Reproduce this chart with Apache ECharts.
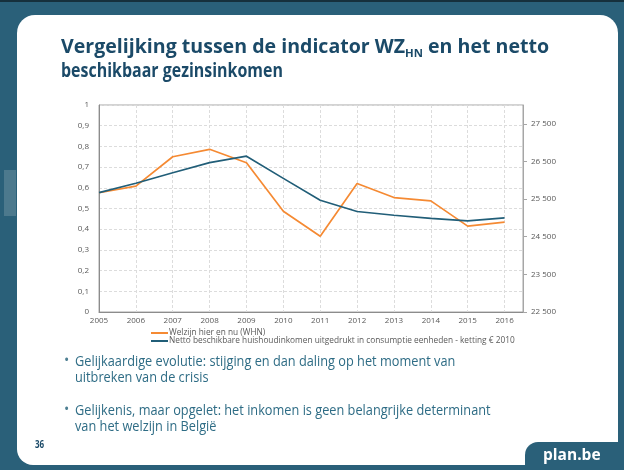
<!DOCTYPE html>
<html>
<head>
<meta charset="utf-8">
<script src="https://cdn.jsdelivr.net/npm/echarts@6/dist/echarts.min.js"></script>
<style>
  html, body { margin: 0; padding: 0; background: #2a6079; }
  #chart { width: 624px; height: 470px; }
</style>
</head>
<body>
<div id="chart"></div>
<script>
// Years on the horizontal axis
const years = [2005, 2006, 2007, 2008, 2009, 2010, 2011, 2012, 2013, 2014, 2015, 2016];

// Welzijn hier en nu (WHN), index 0-1 (left axis)
const welzijn = [0.576, 0.608, 0.750, 0.786, 0.721, 0.487, 0.366, 0.621, 0.553, 0.537, 0.415, 0.434];

// Netto beschikbaar huishoudinkomen per consumptie-eenheid, ketting € 2010 (right axis)
const inkomen = [25670, 25920, 26200, 26470, 26640, 26050, 25470, 25170, 25070, 24990, 24920, 25000];

const seriesNames = [
  'Welzijn hier en nu (WHN)',
  'Netto beschikbare huishoudinkomen uitgedrukt in consumptie eenheden - ketting € 2010'
];

// Left axis 0..1 step 0.1; right axis 22 500..28 000 step 1 000
const leftAxisRange = [0, 1, 0.1];
const rightAxisRange = [22500, 28000, 1000];

const titleLines = [
  'Vergelijking tussen de indicator WZ{sub|HN} en het netto',
  'beschikbaar gezinsinkomen'
];
const bullets = [
  'Gelijkaardige evolutie: stijging en dan daling op het moment van\nuitbreken van de crisis',
  'Gelijkenis, maar opgelet: het inkomen is geen belangrijke determinant\nvan het welzijn in België'
];
const pageNumber = '36';
const siteLabel = 'plan.be';

const TEAL = '#2a6079';
const ORANGE = '#f58a33';
const LINE_TEAL = '#215e78';
const AXIS_TEXT = '#595959';
const TITLE_COLOR = '#1b4a68';
const BODY_COLOR = '#2e6c85';
const FONT = '"Open Sans", "DejaVu Sans", sans-serif';

const pair = (vals) => years.map((y, i) => [y, vals[i]]);

const chart = echarts.init(document.getElementById('chart'), null, { renderer: 'canvas' });

chart.setOption({
  backgroundColor: TEAL,
  animation: false,
  textStyle: { fontFamily: FONT },
  graphic: [
    // dark edge along the top
    { type: 'rect', z: -20, shape: { x: 0, y: 0, width: 624, height: 2 }, style: { fill: '#16303c' } },
    // lighter patch in the left margin
    { type: 'rect', z: -20, shape: { x: 4, y: 170, width: 12, height: 46 }, style: { fill: 'rgba(200,210,215,0.22)' } },
    // white slide panel
    { type: 'rect', z: -10, shape: { x: 17, y: 15, width: 601, height: 450, r: [18, 18, 0, 16] }, style: { fill: '#ffffff' } },
    // footer tab
    { type: 'rect', z: -5, shape: { x: 525, y: 442, width: 110, height: 40, r: [13, 0, 0, 0] }, style: { fill: TEAL } },
    // slide title, two lines
    {
      type: 'text', z: 10, x: 61, y: 35, scaleX: 1.03,
      style: {
        text: titleLines[0],
        fill: TITLE_COLOR,
        font: 'bold 19px ' + FONT,
        lineHeight: 24.7,
        verticalAlign: 'top',
        rich: {
          sub: { fill: TITLE_COLOR, fontSize: 11, fontWeight: 'bold', fontFamily: FONT, lineHeight: 14, verticalAlign: 'bottom' }
        }
      }
    },
    {
      type: 'text', z: 10, x: 61, y: 59.7, scaleX: 0.84,
      style: { text: titleLines[1], fill: TITLE_COLOR, font: 'bold 19px ' + FONT, lineHeight: 24.7, verticalAlign: 'top' }
    },
    // bullet dots
    { type: 'text', z: 10, x: 64, y: 361, style: { text: '•', fill: '#4d7f92', font: '14px ' + FONT, verticalAlign: 'middle' } },
    { type: 'text', z: 10, x: 64, y: 410, style: { text: '•', fill: '#4d7f92', font: '14px ' + FONT, verticalAlign: 'middle' } },
    {
      type: 'text', z: 10, x: 75, y: 353, scaleX: 0.85,
      style: { text: bullets[0], fill: BODY_COLOR, font: '15px ' + FONT, lineHeight: 16.7, verticalAlign: 'top' }
    },
    {
      type: 'text', z: 10, x: 75, y: 402, scaleX: 0.85,
      style: { text: bullets[1], fill: BODY_COLOR, font: '15px ' + FONT, lineHeight: 16.7, verticalAlign: 'top' }
    },
    { type: 'text', z: 10, x: 35, y: 445.5, scaleX: 0.8, style: { text: pageNumber, fill: TITLE_COLOR, font: 'bold 10px ' + FONT, verticalAlign: 'middle' } },
    { type: 'text', z: 10, x: 543, y: 455, scaleX: 0.97, style: { text: siteLabel, fill: '#ffffff', font: 'bold 16px ' + FONT, verticalAlign: 'middle' } }
  ],
  legend: {
    orient: 'vertical',
    left: 151,
    top: 329,
    padding: 0,
    itemGap: 0,
    itemWidth: 17,
    itemHeight: 2,
    icon: 'rect',
    textStyle: { fontSize: 8.3, color: AXIS_TEXT, fontFamily: FONT, padding: [0, 0, 0, -4] },
    data: seriesNames
  },
  grid: {
    left: 99, top: 105, width: 424, height: 207,
    show: true, borderColor: '#a6a6a6', borderWidth: 1, backgroundColor: 'transparent'
  },
  xAxis: {
    type: 'value',
    min: 2005, max: 2016.5, interval: 1,
    axisLine: { show: true, lineStyle: { color: '#8c8c8c', width: 1 } },
    axisTick: { show: false },
    axisLabel: {
      color: AXIS_TEXT, fontSize: 8, margin: 5,
      showMaxLabel: false,
      formatter: (v) => String(Math.round(v))
    },
    splitLine: { show: true, lineStyle: { color: '#dcdcdc', type: [3, 2], width: 1 } }
  },
  yAxis: [
    {
      type: 'value',
      min: leftAxisRange[0], max: leftAxisRange[1], interval: leftAxisRange[2],
      position: 'left',
      axisLine: { show: true, lineStyle: { color: '#8c8c8c', width: 1 } },
      axisTick: { show: false },
      axisLabel: {
        color: AXIS_TEXT, fontSize: 8, margin: 10,
        formatter: (v) => (v === 0 || v === 1) ? String(v) : v.toFixed(1).replace('.', ',')
      },
      splitLine: { show: true, lineStyle: { color: '#dcdcdc', type: [3, 2], width: 1 } }
    },
    {
      type: 'value',
      min: rightAxisRange[0], max: rightAxisRange[1], interval: rightAxisRange[2],
      position: 'right',
      axisLine: { show: true, lineStyle: { color: '#a6a6a6', width: 1 } },
      axisTick: { show: true, inside: false, length: 4, lineStyle: { color: '#a6a6a6' } },
      axisLabel: {
        color: AXIS_TEXT, fontSize: 8, margin: 8,
        showMaxLabel: false,
        formatter: (v) => String(v).replace(/\B(?=(\d{3})+(?!\d))/g, ' ')
      },
      splitLine: { show: false }
    }
  ],
  series: [
    {
      name: seriesNames[0], type: 'line', yAxisIndex: 0,
      data: pair(welzijn), showSymbol: false, color: ORANGE,
      lineStyle: { color: ORANGE, width: 1.7 }
    },
    {
      name: seriesNames[1], type: 'line', yAxisIndex: 1,
      data: pair(inkomen), showSymbol: false, color: LINE_TEAL,
      lineStyle: { color: LINE_TEAL, width: 1.7 }
    }
  ]
});
</script>
</body>
</html>
